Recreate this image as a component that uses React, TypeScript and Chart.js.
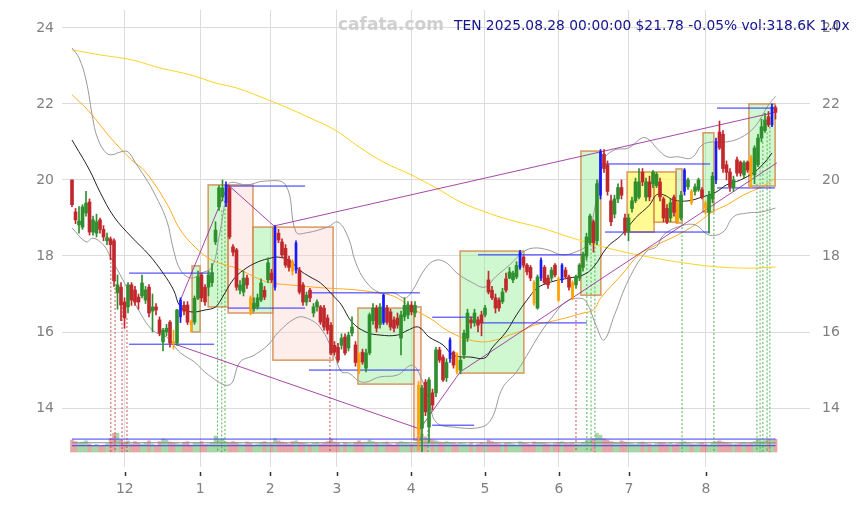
import React, { useEffect, useRef } from "react";
import { Chart, registerables } from "chart.js";
Chart.register(...registerables);

// ---- candles (trading-day index 0..201) ----
const opens = [
  20.0, 19.16, 18.82, 18.76, 19.13, 19.42, 18.63, 18.6, 18.95, 18.7,
  18.4, 18.45, 18.4, 17.03, 17.18, 16.79, 16.66, 17.24, 17.11, 16.92,
  16.95, 16.84, 17.18, 16.55, 16.66, 16.32, 15.74, 16.0, 16.26, 15.75,
  15.71, 16.4, 16.7, 16.71, 16.26, 16.26, 16.89, 17.5, 17.18, 17.18,
  17.3, 18.37, 19.29, 19.55, 19.4, 19.79, 18.24, 18.16, 17.1, 17.05,
  17.42, 16.9, 16.63, 16.66, 16.84, 17.1, 17.37, 17.55, 17.18, 18.6,
  18.37, 18.2, 17.9, 17.84, 17.63, 17.63, 17.24, 16.79, 17.1, 16.5,
  16.66, 16.66, 16.63, 16.37, 16.18, 15.65, 15.6, 15.65, 15.87, 15.58,
  15.97, 15.66, 15.4, 15.47, 15.05, 15.45, 16.3, 16.63, 16.2, 16.25,
  16.63, 16.53, 16.32, 16.37, 15.84, 16.4, 16.45, 16.71, 16.5, 14.6,
  13.47, 14.68, 13.5, 14.4, 14.4, 15.53, 15.34, 14.8, 15.3, 15.47,
  15.4, 15.0, 15.4, 15.84, 16.32, 16.24, 16.32, 16.45, 16.45, 17.37,
  17.1, 16.9, 16.84, 16.8, 17.4, 17.42, 17.37, 17.45, 17.7, 17.97,
  17.76, 17.7, 17.3, 16.63, 17.42, 17.7, 17.42, 17.42, 17.76, 17.4,
  17.37, 17.63, 17.45, 17.3, 17.24, 17.42, 17.7, 18.0, 18.35, 18.9,
  18.4, 19.6, 20.68, 20.4, 19.45, 19.1, 19.5, 19.8, 19.0, 18.65,
  19.25, 19.45, 19.55, 20.2, 19.55, 19.95, 19.9, 19.85, 19.95, 19.5,
  19.25, 19.0, 19.55, 19.4, 19.0, 19.7, 19.82, 19.7, 19.7, 19.74,
  19.74, 19.4, 19.15, 19.5, 20.0, 21.26, 21.2, 20.4, 20.21, 19.8,
  20.53, 20.47, 20.13, 20.47, 20.6, 20.13, 20.4, 21.1, 21.3, 21.66,
  21.45, 21.9,
];
const closes = [
  19.35, 18.95, 18.92, 19.29, 19.39, 18.63, 18.95, 18.9, 18.7, 18.5,
  18.48, 18.3, 17.35, 17.24, 16.71, 16.37, 17.24, 16.84, 16.79, 16.79,
  17.29, 17.11, 16.5, 16.66, 16.58, 15.97, 16.05, 16.1, 15.71, 15.7,
  16.58, 16.84, 16.55, 16.26, 16.2, 16.89, 17.45, 16.9, 16.79, 17.5,
  17.55, 18.68, 19.79, 19.79, 19.87, 18.5, 18.1, 17.18, 17.24, 17.42,
  17.24, 16.55, 16.76, 16.9, 17.29, 16.92, 17.82, 17.37, 18.76, 18.42,
  18.03, 17.76, 17.7, 17.6, 18.34, 17.05, 16.79, 16.97, 16.9, 16.66,
  16.79, 16.26, 16.13, 16.05, 15.45, 15.47, 15.26, 15.84, 15.45, 15.92,
  16.13, 15.2, 14.95, 15.21, 15.45, 16.45, 16.63, 16.1, 16.66, 16.97,
  16.26, 16.13, 16.1, 16.18, 16.45, 16.7, 16.71, 16.53, 16.7, 13.3,
  14.53, 13.9, 14.74, 14.08, 15.53, 15.26, 14.74, 15.2, 15.79, 15.13,
  14.95, 15.26, 15.97, 16.5, 16.24, 16.5, 16.18, 16.24, 16.63, 17.05,
  16.9, 16.63, 16.63, 17.05, 17.1, 17.58, 17.55, 17.75, 18.1, 17.76,
  17.58, 17.42, 16.76, 17.45, 17.89, 17.3, 17.24, 17.63, 17.5, 16.84,
  17.76, 17.45, 17.18, 16.9, 17.45, 17.76, 18.05, 18.5, 19.05, 18.35,
  19.9, 20.74, 20.3, 19.7, 18.9, 19.5, 19.8, 19.6, 18.65, 19.0,
  19.45, 19.95, 19.95, 19.95, 19.95, 19.55, 20.2, 20.15, 19.55, 19.0,
  18.9, 19.4, 19.15, 18.9, 19.6, 20.26, 20.0, 19.4, 19.82, 20.0,
  19.55, 19.26, 19.6, 20.1, 21.0, 20.84, 20.3, 20.2, 19.82, 20.0,
  20.18, 20.18, 20.45, 20.26, 20.1, 20.84, 21.1, 21.4, 21.58, 21.45,
  21.92, 21.78,
];
const highs = [
  20.0, 19.25, 19.3, 19.35, 19.7, 19.5, 19.05, 19.1, 19.0, 18.8,
  18.6, 18.5, 18.45, 17.5, 17.3, 16.9, 17.3, 17.3, 17.2, 17.0,
  17.5, 17.2, 17.25, 17.0, 16.75, 16.4, 16.1, 16.2, 16.3, 16.05,
  16.6, 16.9, 16.8, 16.8, 16.3, 16.95, 17.6, 17.55, 17.25, 17.6,
  17.8, 18.9, 19.85, 20.0, 19.95, 19.85, 18.3, 18.2, 17.35, 17.6,
  17.5, 16.95, 16.9, 17.0, 17.4, 17.2, 17.95, 17.65, 18.8, 18.7,
  18.45, 18.3, 18.0, 17.9, 18.4, 17.7, 17.3, 17.05, 17.15, 16.75,
  16.85, 16.7, 16.7, 16.45, 16.25, 15.75, 15.7, 15.95, 15.95, 16.0,
  16.4, 15.75, 15.45, 15.55, 15.55, 16.5, 16.75, 16.7, 16.75, 17.0,
  16.7, 16.6, 16.4, 16.5, 16.55, 16.9, 16.8, 16.8, 16.8, 14.7,
  14.6, 14.75, 14.8, 14.5, 15.6, 15.6, 15.4, 15.3, 15.85, 15.5,
  15.45, 15.35, 16.05, 16.6, 16.4, 16.6, 16.4, 16.55, 16.7, 17.6,
  17.2, 17.0, 16.9, 17.15, 17.55, 17.7, 17.6, 17.85, 18.15, 18.0,
  17.8, 17.75, 17.35, 17.5, 17.95, 17.75, 17.5, 17.7, 17.8, 17.45,
  17.8, 17.7, 17.5, 17.35, 17.5, 17.8, 18.1, 18.6, 19.1, 18.95,
  20.0, 20.8, 20.8, 20.5, 19.6, 19.6, 19.9, 20.0, 19.1, 19.1,
  19.55, 20.05, 20.3, 20.3, 20.05, 20.1, 20.25, 20.2, 20.05, 19.55,
  19.35, 19.5, 19.6, 19.45, 19.7, 20.3, 20.05, 19.75, 19.9, 20.05,
  19.8, 19.45, 19.7, 20.2, 21.1, 21.55, 21.3, 20.5, 20.3, 20.1,
  20.6, 20.5, 20.5, 20.5, 20.65, 20.9, 21.2, 21.6, 21.75, 21.8,
  22.0, 21.95,
];
const lows = [
  19.3, 18.85, 18.6, 18.7, 19.05, 18.55, 18.55, 18.5, 18.6, 18.4,
  18.3, 17.9, 17.2, 16.6, 16.3, 16.1, 16.5, 16.7, 16.7, 16.6,
  16.9, 16.75, 16.4, 16.0, 16.45, 15.9, 15.5, 15.9, 15.6, 15.55,
  15.65, 16.25, 16.45, 16.2, 16.0, 16.2, 16.85, 16.8, 16.7, 16.95,
  17.2, 18.3, 19.2, 19.45, 19.3, 18.45, 18.0, 17.1, 17.0, 16.95,
  17.15, 16.45, 16.55, 16.6, 16.8, 16.85, 17.3, 17.3, 17.1, 18.35,
  17.95, 17.7, 17.6, 17.5, 17.55, 17.0, 16.7, 16.7, 16.8, 16.4,
  16.55, 16.2, 16.05, 15.95, 15.4, 15.4, 15.2, 15.55, 15.4, 15.5,
  15.9, 15.1, 14.9, 15.15, 14.95, 15.4, 16.2, 16.0, 16.1, 16.2,
  16.2, 16.05, 16.0, 16.1, 15.4, 16.3, 16.35, 16.45, 16.4, 12.9,
  12.85, 13.8, 13.1, 13.95, 14.3, 15.2, 14.7, 14.7, 15.2, 15.05,
  14.9, 14.9, 15.3, 15.75, 16.1, 16.15, 16.0, 15.9, 16.4, 17.0,
  16.85, 16.5, 16.55, 16.75, 17.05, 17.4, 17.3, 17.4, 17.65, 17.7,
  17.5, 17.35, 16.7, 16.6, 17.35, 17.25, 17.15, 17.35, 17.45, 16.8,
  17.3, 17.4, 17.1, 16.85, 17.15, 17.35, 17.6, 17.9, 18.3, 18.1,
  18.3, 19.5, 20.2, 19.6, 18.8, 19.0, 19.4, 19.5, 18.55, 18.4,
  19.15, 19.4, 19.5, 19.85, 19.45, 19.45, 19.8, 19.8, 19.45, 18.9,
  18.85, 18.9, 19.05, 18.85, 18.95, 19.6, 19.75, 19.35, 19.6, 19.7,
  19.5, 19.1, 18.6, 19.4, 19.9, 20.8, 20.2, 20.0, 19.7, 19.7,
  20.1, 20.1, 20.05, 20.2, 19.8, 19.9, 20.35, 21.0, 21.25, 21.4,
  21.4, 21.6,
];
const volumesK = [
  300, 260, 220, 250, 280, 200, 160, 190, 150, 170,
  210, 330, 470, 470, 300, 250, 280, 200, 260, 220,
  190, 230, 280, 200, 170, 260, 330, 300, 250, 230,
  210, 190, 240, 260, 180, 230, 220, 260, 190, 200,
  240, 400, 310, 330, 250, 220, 260, 230, 200, 190,
  250, 220, 180, 200, 240, 260, 220, 210, 340, 280,
  250, 230, 200, 260, 280, 240, 230, 210, 190, 220,
  240, 200, 220, 260, 330, 250, 220, 190, 230, 210,
  200, 240, 280, 230, 250, 300, 260, 230, 210, 230,
  250, 200, 180, 220, 260, 240, 220, 200, 230, 400,
  450, 380, 330, 300, 280, 250, 230, 260, 240, 220,
  200, 230, 210, 190, 220, 180, 200, 240, 210, 300,
  260, 230, 210, 190, 220, 240, 200, 180, 260, 230,
  210, 190, 250, 230, 240, 220, 200, 190, 210, 240,
  260, 220, 210, 230, 190, 200, 240, 280, 300, 330,
  470, 420, 330, 300, 260, 240, 220, 280, 250, 230,
  210, 190, 230, 250, 220, 200, 180, 210, 240, 230,
  200, 220, 190, 210, 250, 260, 220, 200, 190, 210,
  230, 200, 180, 220, 260, 280, 250, 230, 210, 190,
  200, 220, 240, 210, 230, 260, 300, 280, 290, 310,
  300, 319,
];
const blueCandles = [31, 44, 58, 64, 89, 108, 128, 134, 140, 151, 175, 184, 200];
const orangeCandles = [29, 34, 51, 63, 82, 99, 110, 132, 139, 143, 173, 177, 181, 194];

// ---- axis ticks ----
const monthTicks = [15.1, 36.6, 56.6, 75.7, 96.9, 118, 139.1, 159.1, 181.1];
const monthLabels = ["12", "1", "2", "3", "4", "5", "6", "7", "8"];
const priceTicks = [14, 16, 18, 20, 22, 24];

// ---- indicator lines [dayIndex, price] ----
const maShort = [
  [0, 21.05], [5, 20.26], [8, 19.68], [12, 19.03], [17, 18.5], [22, 18.03], [26, 17.55], [29, 17.11],
  [31, 16.66], [34, 16.53], [38, 16.58], [41, 16.66], [43, 16.92], [46, 17.37], [49, 17.63], [53, 17.84],
  [57, 17.95], [59, 17.97], [62, 17.89], [65, 17.63], [68, 17.45], [71, 17.29], [75, 16.92], [77, 16.71],
  [80, 16.26], [84, 16.0], [88, 15.92], [93, 15.92], [96, 16.05], [99, 16.13], [102, 15.87], [106, 15.66],
  [109, 15.39], [114, 15.34], [118, 15.32], [120, 15.58], [124, 16.0], [127, 16.45], [130, 16.84],
  [133, 17.16], [137, 17.32], [142, 17.42], [146, 17.5], [149, 17.71], [153, 18.24], [157, 18.55],
  [161, 19.0], [165, 19.34], [167, 19.61], [169, 19.61], [172, 19.47], [176, 19.45], [180, 19.55],
  [184, 19.68], [187, 19.87], [191, 20.0], [195, 20.21], [198, 20.47], [200, 20.71],
];
const bandUpper = [
  [0, 23.47], [2, 23.21], [4, 22.63], [6, 21.58], [7, 21.18], [9, 20.79], [11, 20.66], [14, 20.74],
  [16, 20.74], [18, 20.47], [21, 20.05], [23, 19.74], [27, 18.95], [29, 18.16], [31, 17.63], [34, 17.42],
  [37, 17.55], [40, 17.71], [42, 18.5], [44, 19.55], [45, 19.92], [50, 19.87], [55, 19.97], [61, 19.87],
  [64, 18.63], [67, 18.61], [73, 18.76], [76, 18.89], [79, 18.47], [81, 17.84], [84, 17.32], [88, 17.03],
  [92, 17.03], [95, 16.89], [97, 17.05], [101, 17.68], [104, 17.89], [107, 17.82], [110, 17.55],
  [114, 17.32], [118, 17.18], [121, 17.45], [125, 17.76], [129, 18.11], [132, 18.21], [136, 18.16],
  [140, 18.03], [144, 18.11], [147, 18.29], [149, 19.08], [152, 20.53], [155, 20.79], [159, 20.84],
  [163, 21.11], [165, 21.05], [167, 20.84], [170, 20.61], [173, 20.61], [177, 20.58], [180, 20.92],
  [183, 21.0], [187, 21.0], [191, 21.11], [195, 21.39], [199, 21.97], [201, 22.2],
];
const bandLower = [
  [0, 18.74], [4, 18.37], [6, 18.47], [9, 18.29], [11, 17.97], [15, 17.29], [19, 16.58], [23, 16.05],
  [27, 15.87], [29, 15.66], [31, 15.45], [35, 15.21], [39, 14.87], [45, 14.61], [48, 15.21], [52, 15.39],
  [56, 15.66], [59, 16.0], [64, 16.37], [67, 16.37], [71, 16.11], [75, 15.39], [77, 14.95], [79, 14.92],
  [83, 14.68], [88, 14.82], [93, 14.87], [97, 15.13], [99, 14.95], [102, 14.21], [104, 13.63],
  [109, 13.5], [117, 13.5], [120, 13.74], [123, 14.53], [127, 14.95], [130, 15.39], [134, 16.0],
  [137, 16.37], [141, 16.79], [145, 16.89], [147, 16.79], [150, 16.11], [152, 15.79], [155, 16.45],
  [159, 17.37], [164, 18.11], [167, 18.24], [169, 18.55], [173, 18.76], [178, 18.82], [182, 18.55],
  [186, 18.63], [189, 19.03], [193, 19.13], [197, 19.16], [201, 19.26],
];
const maMid = [
  [0, 22.24], [5, 21.79], [11, 21.11], [17, 20.53], [21, 20.21], [27, 19.39], [31, 18.68], [36, 18.16],
  [40, 17.89], [44, 17.76], [47, 17.68], [54, 17.37], [57, 17.29], [62, 17.24], [72, 17.16], [81, 17.11],
  [86, 17.05], [91, 16.97], [94, 16.84], [97, 16.63], [103, 16.32], [107, 16.05], [112, 15.84],
  [117, 15.74], [121, 15.79], [125, 15.92], [129, 16.05], [132, 16.18], [136, 16.26], [141, 16.37],
  [146, 16.5], [149, 16.58], [151, 16.89], [157, 17.5], [162, 18.03], [167, 18.29], [173, 18.55],
  [178, 18.82], [183, 19.16], [187, 19.34], [192, 19.61], [197, 19.82], [201, 20.05],
];
const maLong = [
  [0, 23.42], [8, 23.29], [17, 23.16], [25, 22.95], [34, 22.76], [41, 22.55], [47, 22.42], [54, 22.18],
  [61, 21.92], [68, 21.63], [75, 21.32], [82, 20.87], [89, 20.47], [97, 20.13], [104, 19.79],
  [111, 19.42], [118, 19.16], [125, 18.95], [134, 18.74], [142, 18.5], [151, 18.26], [159, 18.08],
  [168, 17.92], [177, 17.79], [185, 17.71], [194, 17.68], [201, 17.71],
];

// ---- boxes [startDay, endDay, low, high, kind] ----
const boxes: [number, number, number, number, string][] = [
  [34.3, 36.6, 16.0, 17.74, "g"],
  [38.9, 44.6, 16.66, 19.87, "g"],
  [44.6, 51.7, 16.5, 19.87, "p"],
  [51.7, 57.4, 16.5, 18.76, "g"],
  [57.4, 74.6, 15.26, 18.76, "p"],
  [81.7, 97.7, 14.63, 16.63, "g"],
  [97.7, 99.7, 13.16, 16.66, "p"],
  [110.9, 129.1, 14.92, 18.13, "g"],
  [145.4, 151.1, 16.97, 20.76, "g"],
  [158.6, 166.3, 18.63, 20.21, "y"],
  [166.3, 172.6, 18.89, 20.21, "y"],
  [172.6, 174.3, 18.87, 20.29, "g"],
  [180.3, 183.4, 19.16, 21.24, "g"],
  [193.4, 200.9, 19.84, 22.0, "g"],
];
// ---- horizontal levels [startDay, endDay, price] ----
const levels = [
  [16.3, 40.6, 17.55], [16.3, 40.6, 15.68],
  [44.6, 66.6, 19.84], [44.6, 66.6, 16.63],
  [67.7, 99.4, 17.03], [67.7, 99.4, 15.0],
  [102.9, 114.9, 16.39], [102.9, 114.9, 13.55],
  [116, 147.1, 18.03], [116, 147.1, 16.24],
  [152.3, 182.3, 20.42], [152.3, 182.3, 18.63],
  [184.3, 200.9, 21.89], [184.3, 200.9, 19.79],
];
const trendHigh = [[31.1, 16.87], [44.6, 19.87], [57.7, 18.79], [201.4, 21.79]];
const trendLow = [[29.4, 15.68], [99.4, 13.45], [110.9, 14.95], [201.4, 20.45]];
const redDrops = [[11.1, 17.95], [12.3, 17.37], [14.3, 16.76], [15.7, 16.37], [73.7, 15.45], [144, 16.84]];
const greenDrops = [
  [41.6, 18.3], [42.8, 19.2], [43.7, 19.45], [101.7, 13.42], [147.1, 18.0], [148.3, 18.3], [149.4, 18.35],
  [174.3, 19.6], [183.4, 20.08], [195.7, 19.9], [196.6, 20.35], [197.4, 21.0], [198.6, 21.25], [199.4, 21.4],
];
const dropFloor = 12.84;
const volumeLevels = [323, 231, 157];

const TITLE = "TEN 2025.08.28 00:00:00 $21.78 -0.05% vol:318.6K 1.0x";
const WATERMARK = "cafata.com";

const RED = "#c0282c";
const GREEN = "#2e8f2e";
const BLUE = "#1a1aff";
const ORANGE = "#ffa200";

function candleColor(i: number) {
  if (blueCandles.includes(i)) return BLUE;
  if (orangeCandles.includes(i)) return ORANGE;
  return closes[i] >= opens[i] ? GREEN : RED;
}

const pts = (arr: number[][]) => arr.map(([x, y]) => ({ x, y }));

export default function App() {
  const ref = useRef<HTMLCanvasElement | null>(null);
  useEffect(() => {
    if (!ref.current) return;
    Chart.defaults.font.family = "'DejaVu Sans', sans-serif";
    const idx = opens.map((_, i) => i);
    const special = (i: number) => blueCandles.includes(i) || orangeCandles.includes(i);

    const boxPlugin = {
      id: "boxes",
      beforeDatasetsDraw(chart: any) {
        const { ctx, chartArea, scales } = chart;
        const xs = scales.x, ys = scales.y;
        ctx.save();
        ctx.beginPath();
        ctx.rect(chartArea.left, chartArea.top, chartArea.right - chartArea.left, chartArea.bottom - chartArea.top);
        ctx.clip();
        for (const [s, e, lo, hi, k] of boxes) {
          const x1 = xs.getPixelForValue(s), x2 = xs.getPixelForValue(e);
          const y1 = ys.getPixelForValue(hi), y2 = ys.getPixelForValue(lo);
          ctx.fillStyle = k === "g" ? "rgba(150,240,150,0.45)" : k === "p" ? "rgba(250,210,205,0.4)" : "rgba(255,250,100,0.7)";
          ctx.fillRect(x1, y1, x2 - x1, y2 - y1);
          ctx.strokeStyle = "rgba(215,140,80,0.9)";
          ctx.lineWidth = 1.5;
          ctx.strokeRect(x1, y1, x2 - x1, y2 - y1);
        }
        ctx.restore();
      },
    };
    const overlayPlugin = {
      id: "overlay",
      afterDraw(chart: any) {
        const { ctx, chartArea, scales } = chart;
        ctx.save();
        ctx.strokeStyle = "#333";
        ctx.lineWidth = 1.5;
        for (const v of monthTicks) {
          const x = Math.round(scales.x.getPixelForValue(v)) + 0.5;
          ctx.beginPath();
          ctx.moveTo(x, chartArea.bottom + 5);
          ctx.lineTo(x, chartArea.bottom + 9);
          ctx.stroke();
        }
        ctx.textBaseline = "middle";
        ctx.font = "bold 17px 'DejaVu Sans'";
        ctx.fillStyle = "rgba(200,200,200,0.85)";
        ctx.fillText(WATERMARK, 338, 26);
        ctx.font = "13.8px 'DejaVu Sans'";
        ctx.fillStyle = "#14148c";
        ctx.fillText(TITLE, 454, 26);
        ctx.restore();
      },
    };

    const segData = (segs: number[][]) =>
      segs.flatMap(([a, b, y]) => [{ x: a, y }, { x: b, y }, { x: b, y: null }]);
    const dropData = (drops: number[][]) =>
      drops.flatMap(([x, y]) => [{ x, y }, { x, y: dropFloor }, { x, y: null }]);

    const lineBase = { type: "line", pointRadius: 0, fill: false, yAxisID: "y" };
    const noVPad = (w: number) => (s: any) => { s.width = w; s.paddingTop = 0; s.paddingBottom = 0; };

    const chart = new Chart(ref.current, {
      type: "bar",
      data: {
        datasets: [
          {
            type: "bar", order: 0, yAxisID: "y", grouped: false, barThickness: 3, minBarLength: 1,
            data: idx.map((i) => ({ x: i, y: special(i) ? null : [opens[i], closes[i]] })),
            backgroundColor: idx.map(candleColor),
          },
          {
            type: "bar", order: 0, yAxisID: "y", grouped: false, barThickness: 2, minBarLength: 1,
            data: idx.map((i) => ({ x: i, y: special(i) ? [opens[i], closes[i]] : null })),
            backgroundColor: idx.map(candleColor),
          },
          {
            type: "bar", order: 1, yAxisID: "y", grouped: false, barThickness: 1,
            data: idx.map((i) => ({ x: i, y: [lows[i], highs[i]] })),
            backgroundColor: idx.map(candleColor),
          },
          { ...lineBase, order: 2, data: pts(maShort), borderColor: "#222", borderWidth: 1, tension: 0.4 },
          { ...lineBase, order: 3, data: pts(bandUpper), borderColor: "#999", borderWidth: 1, tension: 0.4 },
          { ...lineBase, order: 3, data: pts(bandLower), borderColor: "#999", borderWidth: 1, tension: 0.4 },
          { ...lineBase, order: 3, data: pts(maMid), borderColor: "#ffaa22", borderWidth: 1, tension: 0.4 },
          { ...lineBase, order: 3, data: pts(maLong), borderColor: "#ffd21e", borderWidth: 1, tension: 0.4 },
          { ...lineBase, order: 2, data: segData(levels), borderColor: "#2a2aff", borderWidth: 1, spanGaps: false },
          { ...lineBase, order: 2, data: pts(trendHigh), borderColor: "rgba(150,40,150,0.85)", borderWidth: 1 },
          { ...lineBase, order: 2, data: pts(trendLow), borderColor: "rgba(150,40,150,0.85)", borderWidth: 1 },
          { ...lineBase, order: 4, data: dropData(redDrops), borderColor: "rgba(200,60,60,0.9)", borderWidth: 1, borderDash: [2, 2], spanGaps: false },
          { ...lineBase, order: 4, data: dropData(greenDrops), borderColor: "rgba(60,170,60,0.9)", borderWidth: 1, borderDash: [2, 2], spanGaps: false },
          {
            type: "bar", order: 10, yAxisID: "yv", grouped: false, barThickness: 3,
            data: idx.map((i) => ({ x: i, y: volumesK[i] })),
            backgroundColor: idx.map((i) => (closes[i] >= opens[i] ? "rgba(80,175,80,0.5)" : "rgba(205,80,80,0.5)")),
          },
          ...volumeLevels.map((v, k) => ({
            type: "line", order: 9, yAxisID: "yv", pointRadius: 0, borderWidth: 1,
            borderColor: k === 1 ? "#888" : "#3a3aff",
            data: [{ x: 0, y: v }, { x: 201, y: v }],
          })),
        ] as any,
      },
      options: {
        animation: false,
        responsive: true,
        maintainAspectRatio: false,
        layout: { padding: { top: 10, left: 0, right: 0, bottom: 0 } },
        plugins: { legend: { display: false }, tooltip: { enabled: false } },
        scales: {
          x: {
            type: "linear", min: -2.86, max: 210.86, offset: false,
            afterBuildTicks: (s: any) => { s.ticks = monthTicks.map((v) => ({ value: v })); },
            ticks: {
              autoSkip: false, maxRotation: 0, color: "#808080", font: { size: 14 }, padding: 14,
              callback: (_v: any, i: number) => monthLabels[i],
            },
            grid: { color: "#dcdcdc", drawTicks: false, offset: false },
            border: { display: false },
            afterFit: (s: any) => { s.height = 38; s.paddingLeft = 0; s.paddingRight = 0; },
          },
          y: {
            type: "linear", position: "left", min: 12.45, max: 24.47,
            afterBuildTicks: (s: any) => { s.ticks = priceTicks.map((v) => ({ value: v })); },
            ticks: { color: "#808080", font: { size: 14 }, padding: 8, callback: (v: any) => String(v) },
            grid: { color: "#dcdcdc", drawTicks: false },
            border: { display: false },
            afterFit: noVPad(62),
          },
          y2: {
            type: "linear", position: "right", min: 12.45, max: 24.47,
            afterBuildTicks: (s: any) => { s.ticks = priceTicks.map((v) => ({ value: v })); },
            ticks: { color: "#808080", font: { size: 14 }, padding: 12, callback: (v: any) => String(v) },
            grid: { drawOnChartArea: false, drawTicks: false },
            border: { display: false },
            afterFit: noVPad(50),
          },
          yv: { type: "linear", display: false, min: -375, max: 11050 },
        },
      } as any,
      plugins: [boxPlugin, overlayPlugin],
    });
    return () => chart.destroy();
  }, []);

  return (
    <div style={{ position: "fixed", left: 0, top: 0, width: 860, height: 505, background: "#fff" }}>
      <canvas ref={ref} />
    </div>
  );
}
